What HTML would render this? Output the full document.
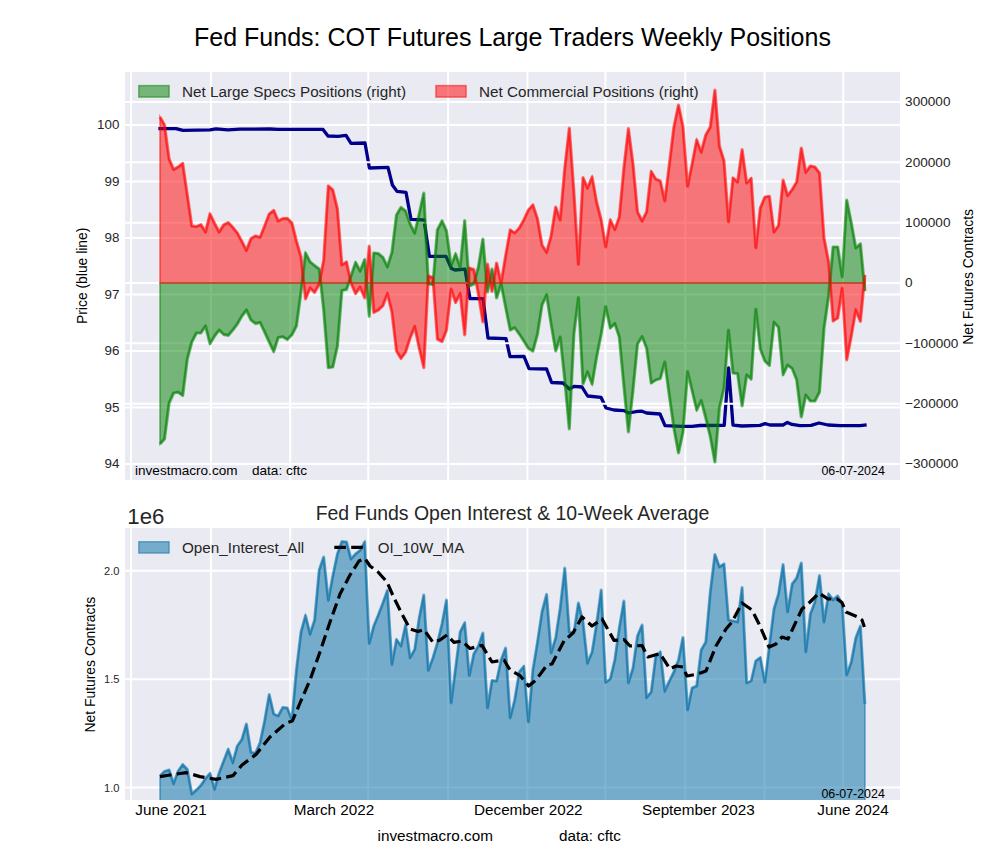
<!DOCTYPE html>
<html lang="en"><head><meta charset="utf-8"><title>Fed Funds: COT Futures Large Traders Weekly Positions</title>
<style>html,body{margin:0;padding:0;background:#fff;}body{width:1000px;height:860px;overflow:hidden;font-family:"Liberation Sans",Arial,sans-serif;}svg{display:block;}text{font-family:"Liberation Sans",Arial,sans-serif;}</style></head><body>
<svg width="1000" height="860" viewBox="0 0 1000 860">
<defs><clipPath id="c1"><rect x="125" y="72" width="775" height="408"/></clipPath><clipPath id="c2"><rect x="125" y="528" width="775" height="272"/></clipPath></defs>
<rect x="0" y="0" width="1000" height="860" fill="#ffffff"/>
<rect x="125" y="72" width="775" height="408" fill="#EAEAF2"/>
<g stroke="#ffffff" stroke-width="2" clip-path="url(#c1)">
<line x1="131" y1="72" x2="131" y2="480"/>
<line x1="210.9" y1="72" x2="210.9" y2="480"/>
<line x1="290.2" y1="72" x2="290.2" y2="480"/>
<line x1="368.2" y1="72" x2="368.2" y2="480"/>
<line x1="448.1" y1="72" x2="448.1" y2="480"/>
<line x1="527.4" y1="72" x2="527.4" y2="480"/>
<line x1="605.4" y1="72" x2="605.4" y2="480"/>
<line x1="685.3" y1="72" x2="685.3" y2="480"/>
<line x1="764.6" y1="72" x2="764.6" y2="480"/>
<line x1="843.2" y1="72" x2="843.2" y2="480"/>
<line x1="125" y1="464.00" x2="900" y2="464.00"/>
<line x1="125" y1="407.50" x2="900" y2="407.50"/>
<line x1="125" y1="351.00" x2="900" y2="351.00"/>
<line x1="125" y1="294.50" x2="900" y2="294.50"/>
<line x1="125" y1="238.00" x2="900" y2="238.00"/>
<line x1="125" y1="181.50" x2="900" y2="181.50"/>
<line x1="125" y1="125.00" x2="900" y2="125.00"/>
</g>
<g clip-path="url(#c1)" stroke-linejoin="round">
<polyline points="160.0,128.6 176.0,128.6 183.0,130.4 210.0,129.8 216.0,128.8 228.0,129.8 240.0,129.2 270.0,129.0 278.0,129.4 323.0,129.4 328.0,136.0 338.0,136.4 346.0,135.4 351.0,143.4 365.0,143.0 369.4,168.0 388.0,167.4 392.4,185.0 397.0,191.4 406.0,192.4 411.0,219.4 424.0,220.0 429.4,256.4 446.0,256.4 451.4,268.5 455.0,270.0 465.0,269.2 470.0,298.6 483.0,298.6 488.0,338.0 506.0,338.6 510.0,356.6 524.0,356.4 529.0,368.7 546.6,369.0 551.6,382.5 563.0,383.0 569.4,389.0 574.0,386.3 582.0,387.0 587.6,396.0 601.0,397.3 606.0,408.0 614.0,410.0 624.0,410.6 628.6,413.0 637.6,411.4 642.0,411.2 646.6,413.0 660.0,414.0 665.0,425.6 682.0,426.4 692.0,426.4 700.0,425.5 724.2,425.4 728.6,368.0 733.0,425.2 742.0,426.0 760.0,425.4 765.0,423.6 770.0,425.0 783.0,425.0 787.4,422.4 792.0,424.4 800.0,425.6 811.0,425.4 819.0,423.0 828.0,425.0 840.0,425.6 860.0,425.6 865.0,425.0" fill="none" stroke="#00008B" stroke-width="3.3" stroke-linecap="square" stroke-linejoin="round"/>
<g stroke="#ffffff" stroke-width="2">
<line x1="125" y1="464.00" x2="900" y2="464.00"/>
<line x1="125" y1="403.67" x2="900" y2="403.67"/>
<line x1="125" y1="343.33" x2="900" y2="343.33"/>
<line x1="125" y1="283.00" x2="900" y2="283.00"/>
<line x1="125" y1="222.67" x2="900" y2="222.67"/>
<line x1="125" y1="162.33" x2="900" y2="162.33"/>
<line x1="125" y1="102.00" x2="900" y2="102.00"/>
</g>
<polygon points="160.0,283.0 160.0,444.0 164.5,439.0 169.1,403.0 173.6,393.0 178.2,392.2 182.7,395.4 187.3,359.0 191.8,342.0 196.4,333.0 200.9,332.8 205.5,326.0 210.0,343.6 214.6,336.0 219.1,330.0 223.7,334.4 228.2,335.4 232.8,330.0 237.3,324.0 241.9,316.0 246.4,310.0 251.0,320.0 255.5,323.6 260.1,322.4 264.6,332.0 269.2,342.0 273.7,351.5 278.2,337.5 282.8,336.7 287.3,339.5 291.9,334.7 296.4,326.0 301.0,292.0 305.5,253.0 310.1,262.0 314.6,265.6 319.2,269.0 323.7,310.0 328.3,367.6 332.8,367.0 337.4,346.0 341.9,290.5 346.5,289.5 351.0,276.0 355.6,262.4 360.1,271.0 364.7,259.6 369.2,316.4 373.8,253.0 378.3,253.6 382.9,257.4 387.4,266.8 391.9,252.5 396.5,215.0 401.0,207.4 405.6,211.0 410.1,224.0 414.7,233.0 419.2,214.0 423.8,193.0 428.3,284.0 432.9,284.5 437.4,230.0 442.0,221.0 446.5,231.0 451.1,266.0 455.6,254.0 460.2,267.5 464.7,220.6 469.3,286.0 473.8,284.0 478.4,267.0 482.9,239.0 487.5,292.0 492.0,269.0 496.6,298.0 501.1,284.0 505.6,307.0 510.2,330.0 514.7,327.6 519.3,334.0 523.8,341.0 528.4,348.4 532.9,351.0 537.5,334.0 542.0,305.0 546.6,295.0 551.1,324.0 555.7,351.0 560.2,337.0 564.8,380.0 569.3,429.0 573.9,334.0 578.4,297.6 583.0,384.0 587.5,372.0 592.1,384.0 596.6,357.0 601.2,334.0 605.7,306.6 610.3,328.0 614.8,323.4 619.3,337.0 623.9,386.0 628.4,432.0 633.0,390.0 637.5,344.0 642.1,336.6 646.6,348.0 651.2,383.0 655.7,380.0 660.3,378.4 664.8,362.0 669.4,396.0 673.9,428.0 678.5,453.0 683.0,432.0 687.6,371.6 692.1,390.5 696.7,410.0 701.2,400.6 705.8,418.0 710.3,436.5 714.9,462.0 719.4,408.0 724.0,388.0 728.5,330.0 733.0,373.0 737.6,373.6 742.1,406.0 746.7,375.0 751.2,379.0 755.8,309.0 760.3,349.0 764.9,361.0 769.4,365.3 774.0,322.2 778.5,327.3 783.1,374.5 787.6,365.0 792.2,368.5 796.7,380.0 801.3,417.0 805.8,395.0 810.4,401.0 814.9,401.0 819.5,392.0 824.0,328.5 828.6,296.0 833.1,247.0 837.7,247.0 842.2,277.0 846.7,200.0 851.3,223.0 855.8,248.0 860.4,244.0 864.9,291.0 864.9,283.0" fill="#008000" fill-opacity="0.5" stroke="#008000" stroke-opacity="0.5" stroke-width="1.7" stroke-linejoin="miter"/>
<polygon points="160.0,283.0 160.0,117.0 164.5,125.0 169.1,159.0 173.6,169.6 178.2,167.0 182.7,163.4 187.3,195.0 191.8,226.0 196.4,226.6 200.9,224.6 205.5,232.0 210.0,214.0 214.6,223.4 219.1,232.0 223.7,225.0 228.2,222.6 232.8,227.4 237.3,233.0 241.9,241.6 246.4,250.4 251.0,238.6 255.5,236.0 260.1,237.4 264.6,226.0 269.2,214.0 273.7,210.4 278.2,221.0 282.8,218.6 287.3,218.4 291.9,223.0 296.4,241.0 301.0,257.0 305.5,299.0 310.1,288.0 314.6,292.4 319.2,284.0 323.7,260.0 328.3,186.0 332.8,190.0 337.4,209.0 341.9,265.0 346.5,262.0 351.0,283.0 355.6,293.6 360.1,287.0 364.7,298.0 369.2,246.0 373.8,312.4 378.3,310.0 382.9,305.6 387.4,293.6 391.9,312.0 396.5,351.0 401.0,358.4 405.6,352.0 410.1,338.0 414.7,326.6 419.2,348.0 423.8,367.6 428.3,276.0 432.9,277.6 437.4,339.0 442.0,341.6 446.5,330.0 451.1,289.0 455.6,302.4 460.2,293.6 464.7,335.0 469.3,268.0 473.8,269.6 478.4,294.0 482.9,322.0 487.5,264.0 492.0,291.5 496.6,263.0 501.1,283.0 505.6,256.0 510.2,230.0 514.7,233.0 519.3,228.0 523.8,220.0 528.4,210.0 532.9,205.0 537.5,219.0 542.0,245.0 546.6,252.4 551.1,236.0 555.7,207.0 560.2,220.0 564.8,168.0 569.3,128.0 573.9,192.0 578.4,264.4 583.0,177.6 587.5,188.0 592.1,177.0 596.6,202.0 601.2,220.0 605.7,247.0 610.3,220.0 614.8,229.6 619.3,217.0 623.9,168.0 628.4,128.6 633.0,164.0 637.5,212.0 642.1,221.0 646.6,212.0 651.2,171.6 655.7,179.0 660.3,181.0 664.8,201.0 669.4,164.0 673.9,127.0 678.5,105.0 683.0,127.0 687.6,186.4 692.1,164.0 696.7,140.0 701.2,152.0 705.8,135.0 710.3,127.0 714.9,90.0 719.4,146.0 724.0,161.0 728.5,222.0 733.0,178.0 737.6,182.0 742.1,149.6 746.7,183.0 751.2,178.4 755.8,248.0 760.3,208.0 764.9,197.0 769.4,196.4 774.0,232.0 778.5,225.6 783.1,180.0 787.6,195.6 792.2,189.6 796.7,182.0 801.3,148.0 805.8,172.4 810.4,166.0 814.9,167.0 819.5,173.0 824.0,238.0 828.6,262.0 833.1,321.0 837.7,318.0 842.2,288.0 846.7,360.0 851.3,336.0 855.8,310.0 860.4,321.4 864.9,275.0 864.9,283.0" fill="#ff0000" fill-opacity="0.5" stroke="#ff0000" stroke-opacity="0.5" stroke-width="1.7" stroke-linejoin="miter"/>
<polyline points="160.0,444.0 164.5,439.0 169.1,403.0 173.6,393.0 178.2,392.2 182.7,395.4 187.3,359.0 191.8,342.0 196.4,333.0 200.9,332.8 205.5,326.0 210.0,343.6 214.6,336.0 219.1,330.0 223.7,334.4 228.2,335.4 232.8,330.0 237.3,324.0 241.9,316.0 246.4,310.0 251.0,320.0 255.5,323.6 260.1,322.4 264.6,332.0 269.2,342.0 273.7,351.5 278.2,337.5 282.8,336.7 287.3,339.5 291.9,334.7 296.4,326.0 301.0,292.0 305.5,253.0 310.1,262.0 314.6,265.6 319.2,269.0 323.7,310.0 328.3,367.6 332.8,367.0 337.4,346.0 341.9,290.5 346.5,289.5 351.0,276.0 355.6,262.4 360.1,271.0 364.7,259.6 369.2,316.4 373.8,253.0 378.3,253.6 382.9,257.4 387.4,266.8 391.9,252.5 396.5,215.0 401.0,207.4 405.6,211.0 410.1,224.0 414.7,233.0 419.2,214.0 423.8,193.0 428.3,284.0 432.9,284.5 437.4,230.0 442.0,221.0 446.5,231.0 451.1,266.0 455.6,254.0 460.2,267.5 464.7,220.6 469.3,286.0 473.8,284.0 478.4,267.0 482.9,239.0 487.5,292.0 492.0,269.0 496.6,298.0 501.1,284.0 505.6,307.0 510.2,330.0 514.7,327.6 519.3,334.0 523.8,341.0 528.4,348.4 532.9,351.0 537.5,334.0 542.0,305.0 546.6,295.0 551.1,324.0 555.7,351.0 560.2,337.0 564.8,380.0 569.3,429.0 573.9,334.0 578.4,297.6 583.0,384.0 587.5,372.0 592.1,384.0 596.6,357.0 601.2,334.0 605.7,306.6 610.3,328.0 614.8,323.4 619.3,337.0 623.9,386.0 628.4,432.0 633.0,390.0 637.5,344.0 642.1,336.6 646.6,348.0 651.2,383.0 655.7,380.0 660.3,378.4 664.8,362.0 669.4,396.0 673.9,428.0 678.5,453.0 683.0,432.0 687.6,371.6 692.1,390.5 696.7,410.0 701.2,400.6 705.8,418.0 710.3,436.5 714.9,462.0 719.4,408.0 724.0,388.0 728.5,330.0 733.0,373.0 737.6,373.6 742.1,406.0 746.7,375.0 751.2,379.0 755.8,309.0 760.3,349.0 764.9,361.0 769.4,365.3 774.0,322.2 778.5,327.3 783.1,374.5 787.6,365.0 792.2,368.5 796.7,380.0 801.3,417.0 805.8,395.0 810.4,401.0 814.9,401.0 819.5,392.0 824.0,328.5 828.6,296.0 833.1,247.0 837.7,247.0 842.2,277.0 846.7,200.0 851.3,223.0 855.8,248.0 860.4,244.0 864.9,291.0" fill="none" stroke="#008000" stroke-opacity="0.5" stroke-width="3.2"/>
<polyline points="160.0,117.0 164.5,125.0 169.1,159.0 173.6,169.6 178.2,167.0 182.7,163.4 187.3,195.0 191.8,226.0 196.4,226.6 200.9,224.6 205.5,232.0 210.0,214.0 214.6,223.4 219.1,232.0 223.7,225.0 228.2,222.6 232.8,227.4 237.3,233.0 241.9,241.6 246.4,250.4 251.0,238.6 255.5,236.0 260.1,237.4 264.6,226.0 269.2,214.0 273.7,210.4 278.2,221.0 282.8,218.6 287.3,218.4 291.9,223.0 296.4,241.0 301.0,257.0 305.5,299.0 310.1,288.0 314.6,292.4 319.2,284.0 323.7,260.0 328.3,186.0 332.8,190.0 337.4,209.0 341.9,265.0 346.5,262.0 351.0,283.0 355.6,293.6 360.1,287.0 364.7,298.0 369.2,246.0 373.8,312.4 378.3,310.0 382.9,305.6 387.4,293.6 391.9,312.0 396.5,351.0 401.0,358.4 405.6,352.0 410.1,338.0 414.7,326.6 419.2,348.0 423.8,367.6 428.3,276.0 432.9,277.6 437.4,339.0 442.0,341.6 446.5,330.0 451.1,289.0 455.6,302.4 460.2,293.6 464.7,335.0 469.3,268.0 473.8,269.6 478.4,294.0 482.9,322.0 487.5,264.0 492.0,291.5 496.6,263.0 501.1,283.0 505.6,256.0 510.2,230.0 514.7,233.0 519.3,228.0 523.8,220.0 528.4,210.0 532.9,205.0 537.5,219.0 542.0,245.0 546.6,252.4 551.1,236.0 555.7,207.0 560.2,220.0 564.8,168.0 569.3,128.0 573.9,192.0 578.4,264.4 583.0,177.6 587.5,188.0 592.1,177.0 596.6,202.0 601.2,220.0 605.7,247.0 610.3,220.0 614.8,229.6 619.3,217.0 623.9,168.0 628.4,128.6 633.0,164.0 637.5,212.0 642.1,221.0 646.6,212.0 651.2,171.6 655.7,179.0 660.3,181.0 664.8,201.0 669.4,164.0 673.9,127.0 678.5,105.0 683.0,127.0 687.6,186.4 692.1,164.0 696.7,140.0 701.2,152.0 705.8,135.0 710.3,127.0 714.9,90.0 719.4,146.0 724.0,161.0 728.5,222.0 733.0,178.0 737.6,182.0 742.1,149.6 746.7,183.0 751.2,178.4 755.8,248.0 760.3,208.0 764.9,197.0 769.4,196.4 774.0,232.0 778.5,225.6 783.1,180.0 787.6,195.6 792.2,189.6 796.7,182.0 801.3,148.0 805.8,172.4 810.4,166.0 814.9,167.0 819.5,173.0 824.0,238.0 828.6,262.0 833.1,321.0 837.7,318.0 842.2,288.0 846.7,360.0 851.3,336.0 855.8,310.0 860.4,321.4 864.9,275.0" fill="none" stroke="#ff0000" stroke-opacity="0.5" stroke-width="3.2"/>
</g>
<rect x="138.8" y="85.6" width="30.3" height="11.5" fill="#008000" fill-opacity="0.5" stroke="#008000" stroke-opacity="0.5" stroke-width="1.5"/>
<text x="182" y="97" font-size="15.28" fill="#262626">Net Large Specs Positions (right)</text>
<rect x="435.9" y="85.6" width="30.2" height="11.5" fill="#ff0000" fill-opacity="0.5" stroke="#ff0000" stroke-opacity="0.5" stroke-width="1.5"/>
<text x="478.9" y="97" font-size="15.28" fill="#262626">Net Commercial Positions (right)</text>
<text transform="translate(119.4,468.0) scale(1,0.95)" font-size="13.4" fill="#262626" text-anchor="end">94</text>
<text transform="translate(119.4,411.5) scale(1,0.95)" font-size="13.4" fill="#262626" text-anchor="end">95</text>
<text transform="translate(119.4,355.0) scale(1,0.95)" font-size="13.4" fill="#262626" text-anchor="end">96</text>
<text transform="translate(119.4,298.5) scale(1,0.95)" font-size="13.4" fill="#262626" text-anchor="end">97</text>
<text transform="translate(119.4,242.0) scale(1,0.95)" font-size="13.4" fill="#262626" text-anchor="end">98</text>
<text transform="translate(119.4,185.5) scale(1,0.95)" font-size="13.4" fill="#262626" text-anchor="end">99</text>
<text transform="translate(119.4,129.0) scale(1,0.95)" font-size="13.4" fill="#262626" text-anchor="end">100</text>
<text transform="translate(905.1,468.2) scale(1,0.95)" font-size="13.6" fill="#262626">−300000</text>
<text transform="translate(905.1,407.9) scale(1,0.95)" font-size="13.6" fill="#262626">−200000</text>
<text transform="translate(905.1,347.5) scale(1,0.95)" font-size="13.6" fill="#262626">−100000</text>
<text transform="translate(905.1,287.2) scale(1,0.95)" font-size="13.6" fill="#262626">0</text>
<text transform="translate(905.1,226.9) scale(1,0.95)" font-size="13.6" fill="#262626">100000</text>
<text transform="translate(905.1,166.5) scale(1,0.95)" font-size="13.6" fill="#262626">200000</text>
<text transform="translate(905.1,106.2) scale(1,0.95)" font-size="13.6" fill="#262626">300000</text>
<text transform="translate(87,275.8) rotate(-90)" font-size="13.89" fill="#000000" text-anchor="middle">Price (blue line)</text>
<text transform="translate(973,276.8) rotate(-90)" font-size="13.89" fill="#000000" text-anchor="middle">Net Futures Contracts</text>
<text transform="translate(135,474.6)" font-size="13.57" fill="#000000">investmacro.com</text>
<text transform="translate(252,474.6)" font-size="13.57" fill="#000000">data: cftc</text>
<text transform="translate(884.8,474.6)" font-size="12.4" fill="#000000" text-anchor="end">06-07-2024</text>
<text transform="translate(512.5,45.7)" font-size="25" fill="#000000" text-anchor="middle">Fed Funds: COT Futures Large Traders Weekly Positions</text>
<rect x="125" y="528" width="775" height="272" fill="#EAEAF2"/>
<g stroke="#ffffff" stroke-width="2" clip-path="url(#c2)">
<line x1="131" y1="528" x2="131" y2="800"/>
<line x1="210.9" y1="528" x2="210.9" y2="800"/>
<line x1="290.2" y1="528" x2="290.2" y2="800"/>
<line x1="368.2" y1="528" x2="368.2" y2="800"/>
<line x1="448.1" y1="528" x2="448.1" y2="800"/>
<line x1="527.4" y1="528" x2="527.4" y2="800"/>
<line x1="605.4" y1="528" x2="605.4" y2="800"/>
<line x1="685.3" y1="528" x2="685.3" y2="800"/>
<line x1="764.6" y1="528" x2="764.6" y2="800"/>
<line x1="843.2" y1="528" x2="843.2" y2="800"/>
<line x1="125" y1="787.60" x2="900" y2="787.60"/>
<line x1="125" y1="679.20" x2="900" y2="679.20"/>
<line x1="125" y1="570.80" x2="900" y2="570.80"/>
</g>
<g clip-path="url(#c2)" stroke-linejoin="round">
<polygon points="160.0,900.0 160.0,776.0 164.5,771.4 169.1,770.0 173.6,783.6 178.2,771.0 182.7,764.6 187.3,769.4 191.8,794.0 196.4,790.0 200.9,785.4 205.5,778.6 210.0,773.4 214.6,789.0 219.1,773.0 223.7,761.0 228.2,749.4 232.8,762.6 237.3,746.0 241.9,739.4 246.4,724.0 251.0,752.4 255.5,753.0 260.1,742.6 264.6,721.0 269.2,694.6 273.7,714.0 278.2,716.0 282.8,707.4 287.3,708.0 291.9,720.0 296.4,670.0 301.0,632.0 305.5,615.6 310.1,634.0 314.6,620.0 319.2,570.0 323.7,557.0 328.3,600.4 332.8,576.0 337.4,554.0 341.9,541.6 346.5,542.0 351.0,559.0 355.6,554.0 360.1,550.4 364.7,542.0 369.2,643.6 373.8,626.0 378.3,615.0 382.9,603.0 387.4,590.4 391.9,664.4 396.5,639.6 401.0,646.0 405.6,625.0 410.1,657.6 414.7,649.6 419.2,618.0 423.8,595.0 428.3,670.4 432.9,658.0 437.4,643.0 442.0,624.0 446.5,600.0 451.1,703.0 455.6,668.0 460.2,632.0 464.7,623.0 469.3,675.6 473.8,654.0 478.4,646.0 482.9,633.0 487.5,708.0 492.0,680.4 496.6,681.0 501.1,660.0 505.6,648.0 510.2,718.0 514.7,700.0 519.3,672.0 523.8,666.4 528.4,722.0 532.9,670.0 537.5,642.0 542.0,612.0 546.6,594.4 551.1,653.0 555.7,638.0 560.2,608.0 564.8,568.0 569.3,632.0 573.9,633.0 578.4,603.0 583.0,622.0 587.5,663.0 592.1,652.0 596.6,624.0 601.2,590.0 605.7,682.4 610.3,679.0 614.8,660.0 619.3,628.0 623.9,601.0 628.4,683.0 633.0,668.0 637.5,636.0 642.1,625.0 646.6,697.6 651.2,692.0 655.7,657.0 660.3,652.0 664.8,691.0 669.4,681.0 673.9,672.0 678.5,660.0 683.0,637.4 687.6,710.0 692.1,688.0 696.7,686.0 701.2,650.0 705.8,642.0 710.3,592.0 714.9,554.4 719.4,567.0 724.0,564.0 728.5,620.0 733.0,621.0 737.6,622.0 742.1,587.6 746.7,683.0 751.2,681.0 755.8,661.0 760.3,657.6 764.9,682.4 769.4,646.0 774.0,609.0 778.5,594.0 783.1,564.6 787.6,612.0 792.2,584.0 796.7,578.0 801.3,563.0 805.8,652.0 810.4,614.0 814.9,602.0 819.5,575.6 824.0,622.0 828.6,594.0 833.1,600.0 837.7,596.0 842.2,604.0 846.7,675.0 851.3,662.0 855.8,638.0 860.4,626.0 864.9,704.0 864.9,900.0" fill="#006BA4" fill-opacity="0.5" stroke="#006BA4" stroke-opacity="0.5" stroke-width="1.7" stroke-linejoin="miter"/>
<polyline points="160.0,776.0 164.5,771.4 169.1,770.0 173.6,783.6 178.2,771.0 182.7,764.6 187.3,769.4 191.8,794.0 196.4,790.0 200.9,785.4 205.5,778.6 210.0,773.4 214.6,789.0 219.1,773.0 223.7,761.0 228.2,749.4 232.8,762.6 237.3,746.0 241.9,739.4 246.4,724.0 251.0,752.4 255.5,753.0 260.1,742.6 264.6,721.0 269.2,694.6 273.7,714.0 278.2,716.0 282.8,707.4 287.3,708.0 291.9,720.0 296.4,670.0 301.0,632.0 305.5,615.6 310.1,634.0 314.6,620.0 319.2,570.0 323.7,557.0 328.3,600.4 332.8,576.0 337.4,554.0 341.9,541.6 346.5,542.0 351.0,559.0 355.6,554.0 360.1,550.4 364.7,542.0 369.2,643.6 373.8,626.0 378.3,615.0 382.9,603.0 387.4,590.4 391.9,664.4 396.5,639.6 401.0,646.0 405.6,625.0 410.1,657.6 414.7,649.6 419.2,618.0 423.8,595.0 428.3,670.4 432.9,658.0 437.4,643.0 442.0,624.0 446.5,600.0 451.1,703.0 455.6,668.0 460.2,632.0 464.7,623.0 469.3,675.6 473.8,654.0 478.4,646.0 482.9,633.0 487.5,708.0 492.0,680.4 496.6,681.0 501.1,660.0 505.6,648.0 510.2,718.0 514.7,700.0 519.3,672.0 523.8,666.4 528.4,722.0 532.9,670.0 537.5,642.0 542.0,612.0 546.6,594.4 551.1,653.0 555.7,638.0 560.2,608.0 564.8,568.0 569.3,632.0 573.9,633.0 578.4,603.0 583.0,622.0 587.5,663.0 592.1,652.0 596.6,624.0 601.2,590.0 605.7,682.4 610.3,679.0 614.8,660.0 619.3,628.0 623.9,601.0 628.4,683.0 633.0,668.0 637.5,636.0 642.1,625.0 646.6,697.6 651.2,692.0 655.7,657.0 660.3,652.0 664.8,691.0 669.4,681.0 673.9,672.0 678.5,660.0 683.0,637.4 687.6,710.0 692.1,688.0 696.7,686.0 701.2,650.0 705.8,642.0 710.3,592.0 714.9,554.4 719.4,567.0 724.0,564.0 728.5,620.0 733.0,621.0 737.6,622.0 742.1,587.6 746.7,683.0 751.2,681.0 755.8,661.0 760.3,657.6 764.9,682.4 769.4,646.0 774.0,609.0 778.5,594.0 783.1,564.6 787.6,612.0 792.2,584.0 796.7,578.0 801.3,563.0 805.8,652.0 810.4,614.0 814.9,602.0 819.5,575.6 824.0,622.0 828.6,594.0 833.1,600.0 837.7,596.0 842.2,604.0 846.7,675.0 851.3,662.0 855.8,638.0 860.4,626.0 864.9,704.0" fill="none" stroke="#006BA4" stroke-opacity="0.5" stroke-width="3.0"/>
<polyline points="160.0,776.6 170.0,775.0 186.0,772.6 200.0,776.6 216.0,779.4 233.0,775.6 242.0,765.0 256.0,754.4 270.0,737.0 286.0,723.0 292.4,721.0 300.0,703.0 310.0,680.0 320.0,652.0 330.0,622.0 340.0,594.0 350.0,575.0 359.0,561.0 365.0,558.4 370.0,566.0 378.0,572.0 387.0,582.0 394.0,598.0 402.0,614.0 410.0,629.0 418.0,631.6 424.0,629.6 433.0,642.4 440.0,640.0 447.0,635.0 454.0,642.4 462.0,641.0 470.0,648.5 482.0,645.4 492.0,662.0 504.0,660.0 510.0,670.0 520.0,675.6 528.6,686.0 536.0,680.0 547.0,665.0 552.0,664.0 564.0,641.0 573.0,633.0 582.0,617.0 592.0,626.0 602.0,619.0 614.0,640.4 624.0,639.6 630.0,646.0 642.0,645.6 648.0,657.0 660.0,653.5 670.0,669.0 676.0,666.0 683.0,667.0 687.0,676.0 698.0,674.0 706.0,671.0 716.0,646.0 726.0,629.0 732.0,622.0 742.0,603.0 752.0,610.0 759.0,624.0 769.0,647.0 776.0,644.0 782.0,637.0 788.0,639.0 794.0,626.0 802.0,609.0 810.0,602.0 819.0,593.0 828.0,599.0 837.0,599.0 842.0,602.5 846.0,612.0 858.0,617.0 862.0,620.0 864.4,627.0" fill="none" stroke="#000000" stroke-width="3.2" stroke-dasharray="11.6,5.3"/>
</g>
<rect x="138.8" y="541.7" width="30.3" height="11.4" fill="#006BA4" fill-opacity="0.5" stroke="#006BA4" stroke-opacity="0.5" stroke-width="1.4"/>
<text x="182" y="553" font-size="15.28" fill="#262626">Open_Interest_All</text>
<line x1="334.3" y1="547.4" x2="364.9" y2="547.4" stroke="#000" stroke-width="3.2" stroke-dasharray="11.6,5.3"/>
<text x="377.8" y="553" font-size="15.1" fill="#262626">OI_10W_MA</text>
<text transform="translate(119.4,791.6)" font-size="11.1" fill="#262626" text-anchor="end">1.0</text>
<text transform="translate(119.4,683.2)" font-size="11.1" fill="#262626" text-anchor="end">1.5</text>
<text transform="translate(119.4,574.8)" font-size="11.1" fill="#262626" text-anchor="end">2.0</text>
<text transform="translate(127.3,523.5)" font-size="22.2" fill="#262626">1e6</text>
<text transform="translate(95.2,664.6) rotate(-90)" font-size="13.89" fill="#000000" text-anchor="middle">Net Futures Contracts</text>
<text transform="translate(512.5,520)" font-size="19.44" fill="#262626" text-anchor="middle">Fed Funds Open Interest &amp; 10-Week Average</text>
<text transform="translate(171,815)" font-size="15.28" fill="#000000" text-anchor="middle">June 2021</text>
<text transform="translate(334,815)" font-size="15.28" fill="#000000" text-anchor="middle">March 2022</text>
<text transform="translate(528.3,815)" font-size="15.28" fill="#000000" text-anchor="middle">December 2022</text>
<text transform="translate(698.4,815)" font-size="15.28" fill="#000000" text-anchor="middle">September 2023</text>
<text transform="translate(853,815)" font-size="15.28" fill="#000000" text-anchor="middle">June 2024</text>
<text transform="translate(884.8,798)" font-size="12.4" fill="#000000" text-anchor="end">06-07-2024</text>
<text transform="translate(377.5,841)" font-size="15.28" fill="#000000">investmacro.com</text>
<text transform="translate(559,841)" font-size="15.28" fill="#000000">data: cftc</text>
</svg></body></html>
